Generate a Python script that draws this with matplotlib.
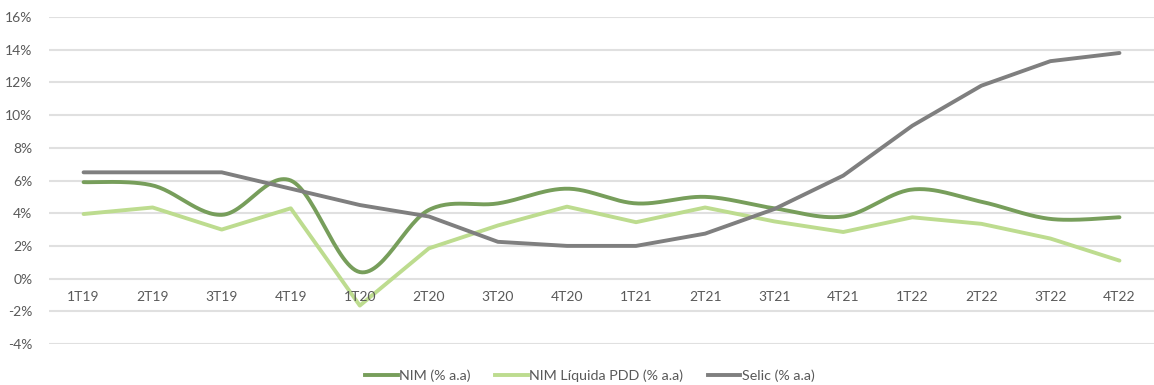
import numpy as np
import matplotlib
matplotlib.use("Agg")
import matplotlib.pyplot as plt
from matplotlib.lines import Line2D

categories = ["1T19", "2T19", "3T19", "4T19", "1T20", "2T20", "3T20", "4T20",
              "1T21", "2T21", "3T21", "4T21", "1T22", "2T22", "3T22", "4T22"]
nim = [5.9, 5.7, 3.9, 6.0, 0.4, 4.2, 4.6, 5.5, 4.6, 5.0, 4.3, 3.8, 5.45, 4.7, 3.65, 3.75]
nim_liq_pdd = [3.95, 4.35, 3.0, 4.3, -1.65, 1.85, 3.25, 4.4, 3.45, 4.35, 3.5, 2.85, 3.75, 3.35, 2.45, 1.1]
selic = [6.5, 6.5, 6.5, 5.5, 4.5, 3.8, 2.25, 2.0, 2.0, 2.75, 4.25, 6.3, 9.35, 11.8, 13.3, 13.8]
series_names = ["NIM (% a.a)", "NIM Líquida PDD (% a.a)", "Selic (% a.a)"]
y_ticks = list(range(-4, 17, 2))

plt.rcParams["font.family"] = ["Lato", "DejaVu Sans"]

c_nim = "#779e5b"
c_liq = "#bddc8f"
c_selic = "#7f7f7f"
c_text = "#595959"
c_grid = "#e0e0e0"


def smooth(xs, ys, n=30):
    """Catmull-Rom style Bezier smoothing through every point."""
    xs = np.asarray(xs, float)
    ys = np.asarray(ys, float)
    px = np.concatenate([[xs[0]], xs, [xs[-1]]])
    py = np.concatenate([[ys[0]], ys, [ys[-1]]])
    out_x, out_y = [], []
    t = np.linspace(0, 1, n)
    for i in range(1, len(px) - 2):
        p0 = np.array([px[i], py[i]])
        p3 = np.array([px[i + 1], py[i + 1]])
        c1 = p0 + (np.array([px[i + 1], py[i + 1]]) - np.array([px[i - 1], py[i - 1]])) / 6
        c2 = p3 - (np.array([px[i + 2], py[i + 2]]) - np.array([px[i], py[i]])) / 6
        b = (np.outer((1 - t) ** 3, p0) + np.outer(3 * (1 - t) ** 2 * t, c1)
             + np.outer(3 * (1 - t) * t ** 2, c2) + np.outer(t ** 3, p3))
        out_x.extend(b[:, 0])
        out_y.extend(b[:, 1])
    return np.array(out_x), np.array(out_y)


fig = plt.figure(figsize=(11.54, 3.85), dpi=100)
ax = fig.add_axes([0.0425, 0.1065, 0.9575, 0.8493])

x = np.arange(len(categories))
sx, sy = smooth(x, nim)
ax.plot(sx, sy, color=c_nim, lw=2.8, solid_capstyle="round", zorder=3)
ax.plot(x, nim_liq_pdd, color=c_liq, lw=2.8, solid_capstyle="round",
        solid_joinstyle="round", zorder=3)
ax.plot(x, selic, color=c_selic, lw=2.8, solid_capstyle="round",
        solid_joinstyle="round", zorder=3)

ax.set_xlim(-0.5, len(categories) - 0.5)
ax.set_ylim(-4, 16)
ax.set_yticks(y_ticks)
ax.set_yticklabels([f"{v}%" for v in y_ticks])
ax.yaxis.grid(True, color=c_grid, lw=1.5)
ax.set_axisbelow(True)
ax.set_xticks([])
ax.tick_params(axis="y", length=0, pad=12, labelsize=10, labelcolor=c_text)
for s in ax.spines.values():
    s.set_visible(False)

for i, lab in enumerate(categories):
    ax.annotate(lab, (i, 0), xytext=(0, -9), textcoords="offset points",
                ha="center", va="top", fontsize=10, color=c_text)

handles = [Line2D([], [], color=c, lw=2.8) for c in (c_nim, c_liq, c_selic)]
fig.legend(handles, series_names, loc="center", bbox_to_anchor=(0.511, 0.024),
           ncol=3, frameon=False, fontsize=10.3, labelcolor=c_text,
           handlelength=2.3, handletextpad=0.1, columnspacing=1.7)

fig.savefig("out.png", dpi=100, facecolor="white")
